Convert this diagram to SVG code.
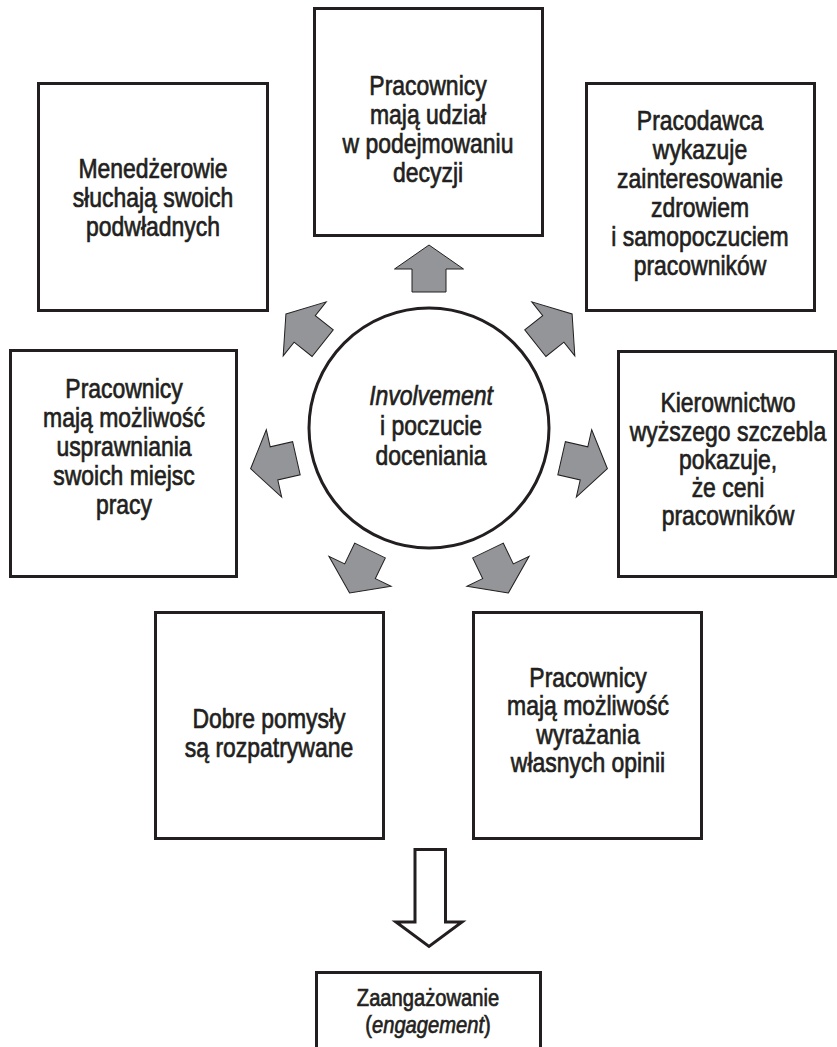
<svg xmlns="http://www.w3.org/2000/svg" width="837" height="1047" viewBox="0 0 837 1047">
<style>
.box{fill:#fff;stroke:#231f20;stroke-width:3}
.t{font-family:"Liberation Sans",Arial,sans-serif;font-size:28px;fill:#231f20;stroke:#231f20;stroke-width:0.7;text-anchor:middle}
.s{font-size:24px}
.it{font-style:italic}
.ga{fill:#939598;stroke:#231f20;stroke-width:1;stroke-linejoin:miter}
.ha{fill:#fff;stroke:#231f20;stroke-width:3}
</style>
<defs>
<path id="garrow" class="ga" d="M0,-183 L34.5,-159 L17,-159 L17,-136 L-17,-136 L-17,-159 L-34.5,-159 Z"/>
</defs>
<g id="connectors">
<g transform="translate(429,428)">
<use href="#garrow" transform="rotate(0)"/>
<use href="#garrow" transform="rotate(-51.43)"/>
<use href="#garrow" transform="rotate(51.43)"/>
<use href="#garrow" transform="rotate(-102.86)"/>
<use href="#garrow" transform="rotate(102.86)"/>
<use href="#garrow" transform="rotate(-154.29)"/>
<use href="#garrow" transform="rotate(154.29)"/>
</g>
<path class="ha" d="M415,849.5 L445.5,849.5 L445.5,922 L462,922 L429,946.5 L396,922 L415,922 Z"/>
</g>
<g id="center">
<circle cx="429" cy="428" r="120" fill="#fff" stroke="#231f20" stroke-width="3"/>
<g transform="translate(431,0) scale(0.82,1)">
<text class="t it" x="0" y="405">Involvement</text>
<text class="t" x="0" y="435">i poczucie</text>
<text class="t" x="0" y="465">doceniania</text>
</g>
</g>
<g id="n-top">
<rect class="box" x="314.5" y="8.5" width="228" height="227"/>
<g transform="translate(428,0) scale(0.82,1)">
<text class="t" x="0" y="95">Pracownicy</text>
<text class="t" x="0" y="124">mają udział</text>
<text class="t" x="0" y="153">w podejmowaniu</text>
<text class="t" x="0" y="182">decyzji</text>
</g>
</g>
<g id="n-menedzerowie">
<rect class="box" x="38.5" y="83.5" width="229" height="227"/>
<g transform="translate(153,0) scale(0.82,1)">
<text class="t" x="0" y="178">Menedżerowie</text>
<text class="t" x="0" y="207">słuchają swoich</text>
<text class="t" x="0" y="236">podwładnych</text>
</g>
</g>
<g id="n-pracodawca">
<rect class="box" x="586.5" y="83.5" width="228" height="227"/>
<g transform="translate(700,0) scale(0.82,1)">
<text class="t" x="0" y="130">Pracodawca</text>
<text class="t" x="0" y="159">wykazuje</text>
<text class="t" x="0" y="188">zainteresowanie</text>
<text class="t" x="0" y="217">zdrowiem</text>
<text class="t" x="0" y="246">i samopoczuciem</text>
<text class="t" x="0" y="275">pracowników</text>
</g>
</g>
<g id="n-usprawnianie">
<rect class="box" x="10.5" y="350.5" width="226" height="226"/>
<g transform="translate(124,0) scale(0.82,1)">
<text class="t" x="0" y="398">Pracownicy</text>
<text class="t" x="0" y="427">mają możliwość</text>
<text class="t" x="0" y="456">usprawniania</text>
<text class="t" x="0" y="485">swoich miejsc</text>
<text class="t" x="0" y="514">pracy</text>
</g>
</g>
<g id="n-kierownictwo">
<rect class="box" x="618.5" y="351.5" width="217" height="225"/>
<g transform="translate(728,0) scale(0.82,1)">
<text class="t" x="0" y="412">Kierownictwo</text>
<text class="t" x="0" y="441">wyższego szczebla</text>
<text class="t" x="0" y="469">pokazuje,</text>
<text class="t" x="0" y="497">że ceni</text>
<text class="t" x="0" y="525">pracowników</text>
</g>
</g>
<g id="n-pomysly">
<rect class="box" x="155.5" y="612.5" width="228" height="226"/>
<g transform="translate(269,0) scale(0.82,1)">
<text class="t" x="0" y="728">Dobre pomysły</text>
<text class="t" x="0" y="757">są rozpatrywane</text>
</g>
</g>
<g id="n-opinie">
<rect class="box" x="473.5" y="612.5" width="228" height="226"/>
<g transform="translate(588,0) scale(0.82,1)">
<text class="t" x="0" y="687">Pracownicy</text>
<text class="t" x="0" y="715">mają możliwość</text>
<text class="t" x="0" y="744">wyrażania</text>
<text class="t" x="0" y="772">własnych opinii</text>
</g>
</g>
<g id="n-zaangazowanie">
<rect class="box" x="316.5" y="972.5" width="224" height="100"/>
<g transform="translate(428,0) scale(0.84,1)">
<text class="t s" x="0" y="1006">Zaangażowanie</text>
<text class="t s" x="0" y="1033">(<tspan class="it">engagement</tspan>)</text>
</g>
</g>
</svg>
